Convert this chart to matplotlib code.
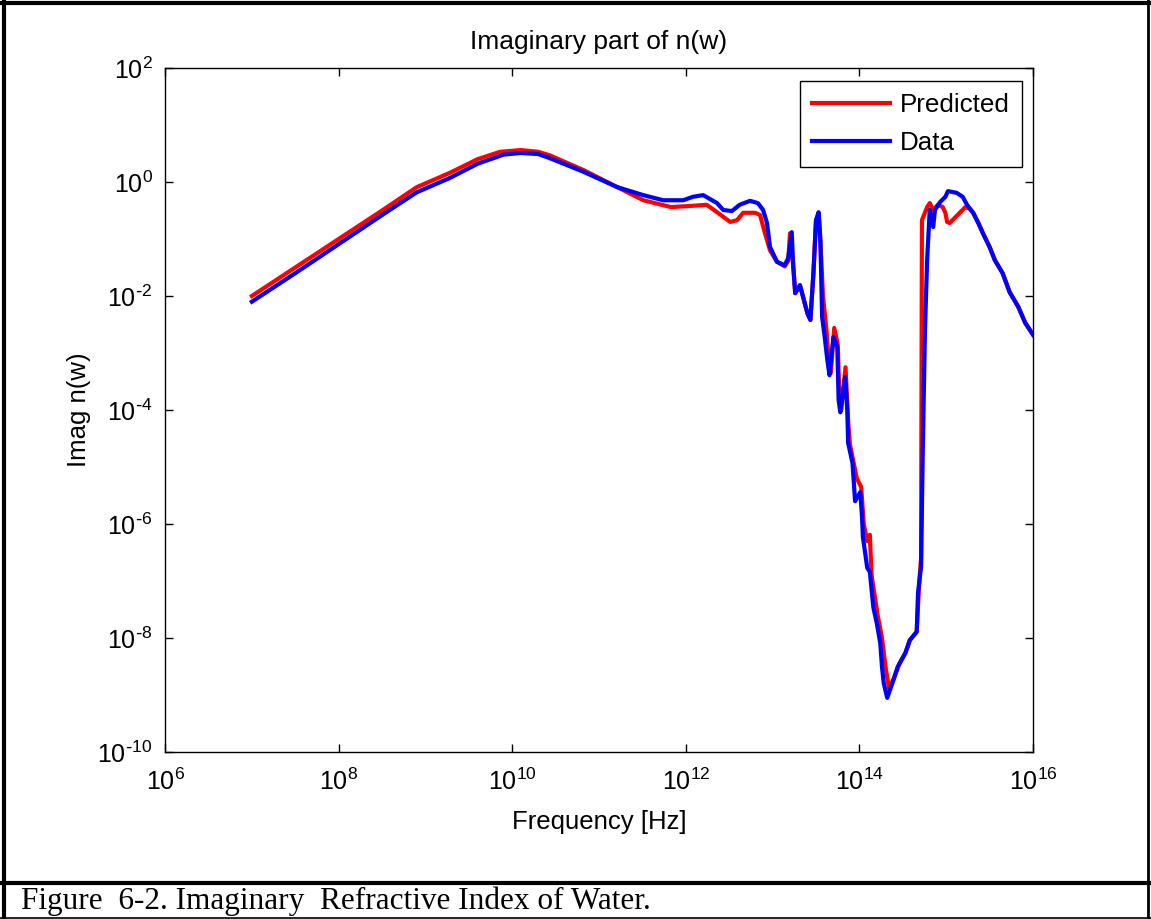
import numpy as np
import matplotlib
matplotlib.use("Agg")
import matplotlib.pyplot as plt
from matplotlib.ticker import FixedLocator, FuncFormatter, NullLocator
from matplotlib.lines import Line2D

plt.rcParams['font.family'] = ['Liberation Sans', 'DejaVu Sans']
plt.rcParams['mathtext.default'] = 'regular'
plt.rcParams['axes.unicode_minus'] = False

pred_freq_exp = [7.0, 7.5, 8.0, 8.5, 8.9, 9.28, 9.6, 9.86, 10.1, 10.3, 10.43,
                 10.82, 11.21, 11.51, 11.83, 12.05, 12.24, 12.36, 12.51, 12.59,
                 12.66, 12.80, 12.855, 12.91, 12.97, 13.05, 13.14, 13.18, 13.20,
                 13.235, 13.26, 13.315, 13.40, 13.435, 13.47, 13.50, 13.53, 13.55,
                 13.58, 13.62, 13.65, 13.67, 13.71, 13.75, 13.77, 13.79, 13.84,
                 13.87, 13.89, 13.93, 13.97, 14.02, 14.05, 14.09, 14.12, 14.14,
                 14.18, 14.21, 14.26, 14.30, 14.34, 14.40, 14.46, 14.53, 14.58,
                 14.66, 14.69, 14.71, 14.72, 14.78, 14.81, 14.85, 14.905, 14.96,
                 14.99, 15.01, 15.04, 15.22, 15.27, 15.31, 15.37, 15.42, 15.50,
                 15.56, 15.65, 15.73, 15.83, 15.91, 16.0]
pred_imag_exp = [-2.0, -1.5, -1.0, -0.5, -0.09, 0.16, 0.40, 0.53, 0.56, 0.53, 0.47,
                 0.21, -0.09, -0.32, -0.44, -0.42, -0.40, -0.53, -0.70, -0.67,
                 -0.54, -0.54, -0.58, -0.89, -1.20, -1.40, -1.48, -1.38, -0.90,
                 -1.42, -1.95, -1.81, -2.30, -2.42, -1.60, -0.67, -0.55, -1.02,
                 -2.0, -2.6, -3.2, -3.35, -2.56, -2.85, -3.8, -4.0, -3.25,
                 -4.2, -4.6, -4.9, -5.2, -5.35, -6.0, -6.3, -6.19, -6.9,
                 -7.3, -7.6, -8.0, -8.5, -8.88, -8.7, -8.45, -8.26, -8.04,
                 -7.89, -7.0, -6.6, -0.67, -0.44, -0.37, -0.49, -0.40, -0.44,
                 -0.54, -0.70, -0.72, -0.44, -0.47, -0.54, -0.72, -0.89, -1.14,
                 -1.37, -1.60, -1.93, -2.19, -2.47, -2.68]

data_freq_exp = [7.0, 7.5, 8.0, 8.5, 8.9, 9.28, 9.6, 9.9, 10.1, 10.3, 10.43,
                 10.82, 11.21, 11.51, 11.74, 11.97, 12.08, 12.20, 12.36, 12.43,
                 12.53, 12.62, 12.74, 12.83, 12.89, 12.935, 12.97, 13.05, 13.14,
                 13.18, 13.22, 13.235, 13.26, 13.315, 13.40, 13.435, 13.47, 13.50,
                 13.53, 13.55, 13.57, 13.60, 13.63, 13.655, 13.70, 13.745, 13.76,
                 13.78, 13.80, 13.835, 13.86, 13.87, 13.92, 13.95, 14.01, 14.03,
                 14.04, 14.09, 14.12, 14.16, 14.20, 14.24, 14.26, 14.28, 14.32,
                 14.38, 14.44, 14.53, 14.58, 14.66, 14.675, 14.71, 14.73, 14.755,
                 14.78, 14.81, 14.85, 14.87, 14.93, 14.99, 15.02, 15.12, 15.19,
                 15.24, 15.31, 15.37, 15.42, 15.50, 15.56, 15.65, 15.73, 15.83,
                 15.91, 16.0]
data_imag_exp = [-2.1, -1.6, -1.09, -0.58, -0.18, 0.07, 0.32, 0.48, 0.51, 0.49, 0.42,
                 0.18, -0.09, -0.23, -0.32, -0.32, -0.26, -0.23, -0.37, -0.49,
                 -0.51, -0.40, -0.33, -0.37, -0.49, -0.72, -1.14, -1.40, -1.46,
                 -1.33, -0.88, -1.42, -1.95, -1.81, -2.30, -2.42, -1.60, -0.67,
                 -0.53, -1.02, -2.37, -2.72, -3.12, -3.39, -2.72, -2.89, -3.82,
                 -4.04, -3.82, -3.42, -4.0, -4.58, -4.93, -5.6, -5.44, -5.88,
                 -6.23, -6.77, -6.84, -7.46, -7.74, -8.09, -8.51, -8.79, -9.05,
                 -8.79, -8.51, -8.26, -8.04, -7.89, -7.21, -6.75, -4.70, -2.60,
                 -1.37, -0.49, -0.79, -0.49, -0.35, -0.26, -0.16, -0.19, -0.26,
                 -0.40, -0.54, -0.72, -0.89, -1.14, -1.37, -1.60, -1.93, -2.19,
                 -2.47, -2.68]

x_tick_exp = [6, 8, 10, 12, 14, 16]
y_tick_exp = [-10, -8, -6, -4, -2, 0, 2]

pred_freq = 10.0 ** np.array(pred_freq_exp)
pred_imag = 10.0 ** np.array(pred_imag_exp)
data_freq = 10.0 ** np.array(data_freq_exp)
data_imag = 10.0 ** np.array(data_imag_exp)

fig = plt.figure(figsize=(11.51, 9.19), dpi=100)
ax = fig.add_axes([0.1434, 0.1817, 0.7541, 0.7443])

ax.plot(pred_freq, pred_imag, color=(1.0, 0.0, 0.0), lw=3, label='Predicted')
ax.plot(data_freq, data_imag, color=(0.0, 0.0, 1.0), lw=3, label='Data')

ax.set_xscale('log')
ax.set_yscale('log')
ax.set_xlim(1e6, 1e16)
ax.set_ylim(1e-10, 1e2)

def pow_label(v, pos):
    e = int(round(np.log10(v)))
    if e < 0:
        return r'$\mathregular{10^{\text{-}%d}}$' % (-e)
    return r'$\mathregular{10^{%d}}$' % e

ax.xaxis.set_major_locator(FixedLocator([10.0 ** e for e in x_tick_exp]))
ax.yaxis.set_major_locator(FixedLocator([10.0 ** e for e in y_tick_exp]))
ax.xaxis.set_minor_locator(NullLocator())
ax.yaxis.set_minor_locator(NullLocator())
ax.xaxis.set_major_formatter(FuncFormatter(pow_label))
ax.yaxis.set_major_formatter(FuncFormatter(pow_label))
ax.tick_params(direction='in', top=True, right=True, length=6, width=1,
               labelsize=18, colors='black')
ax.tick_params(axis='x', pad=12)
ax.tick_params(axis='y', pad=9)
for s in ax.spines.values():
    s.set_linewidth(1.0)
    s.set_color('black')

ax.set_title('Imaginary part of n(w)', fontsize=19, pad=14)
ax.set_xlabel('Frequency [Hz]', fontsize=18.5, labelpad=11)
ax.set_ylabel('Imag n(w)', fontsize=18.5, labelpad=5)

leg = ax.legend(loc='upper right', bbox_to_anchor=(0.987, 0.981), borderaxespad=0,
                fontsize=18.7, fancybox=False, framealpha=1, edgecolor='black',
                handlelength=3.0, handletextpad=0.4, borderpad=0.45,
                labelspacing=0.55)
leg.get_frame().set_linewidth(1.0)

# page frame around the figure and caption
W, H = 1151.0, 919.0
fig.add_artist(Line2D([4 / W, 4 / W], [0, 1 - 2 / H], color='black', lw=3))
fig.add_artist(Line2D([0, 1], [1 - 3 / H, 1 - 3 / H], color='black', lw=3))
fig.add_artist(Line2D([1148 / W, 1148 / W], [0, 1], color='black', lw=2))
fig.add_artist(Line2D([0, 1], [1 - 883 / H, 1 - 883 / H], color='black', lw=3))
fig.add_artist(Line2D([0, 1], [1 - 918 / H, 1 - 918 / H], color='black', lw=1.2))
fig.text(21 / W, 1 - 901 / H, 'Figure  6-2. Imaginary  Refractive Index of Water.',
         family=['Liberation Serif', 'DejaVu Serif'], fontsize=22.5,
         ha='left', va='center')

fig.savefig('out.png', dpi=100, facecolor='white')
